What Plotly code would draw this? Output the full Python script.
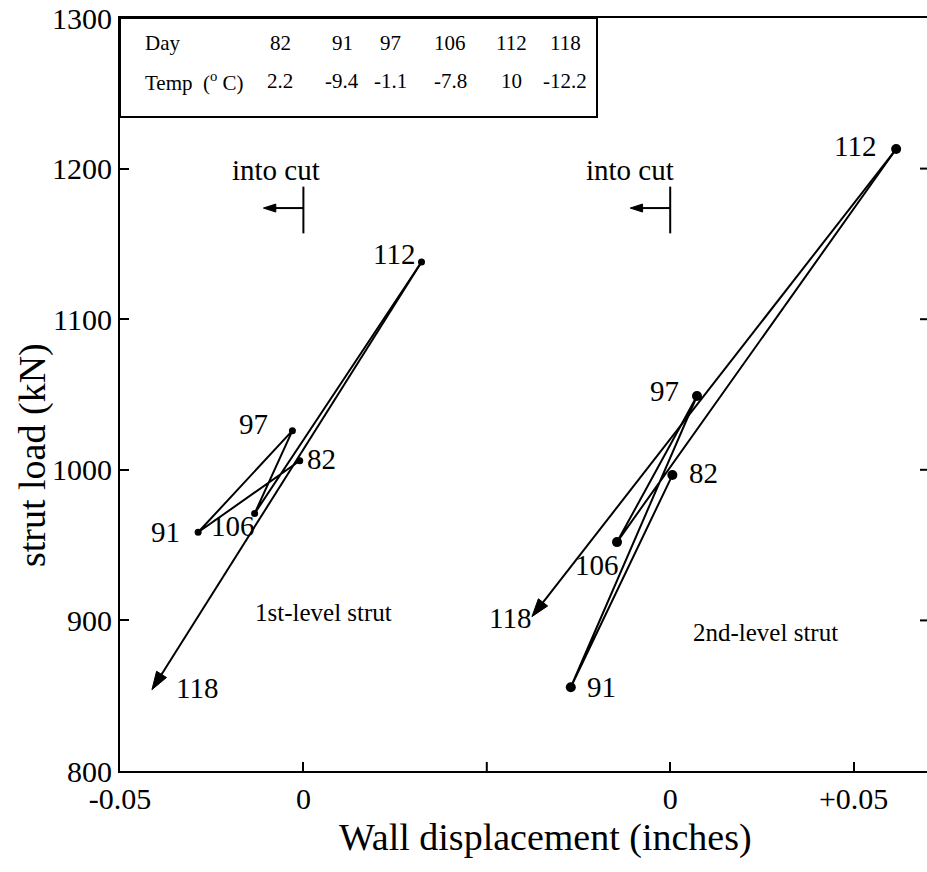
import plotly.graph_objects as go

# Observation days and air temperatures
days = [82, 91, 97, 106, 112, 118]
temps = ["2.2", "-9.4", "-1.1", "-7.8", "10", "-12.2"]

# 1st-level strut: wall displacement (in) and strut load (kN), in day order
strut1_disp = [-0.0010, -0.0287, -0.0030, -0.0133, 0.0322, -0.0413]
strut1_load = [1006, 958.5, 1026, 971, 1138, 854]

# 2nd-level strut
strut2_disp = [0.0006, -0.0271, 0.0073, -0.0145, 0.0616, -0.0377]
strut2_load = [996.5, 855.6, 1049, 952, 1213, 902.5]

# The two panels share one x axis; the 2nd-level panel is shifted right
PANEL2_OFFSET = 0.10

x_tickvals = [-0.05, 0.0, 0.10, 0.15]
x_ticktext = ["-0.05", "0", "0", "+0.05"]
x_unlabelled_tick = 0.05
y_tickvals = [800, 900, 1000, 1100, 1200, 1300]

# Label offsets (px) around each point: (dx, dy up)
lab1 = [(22, 2), (-33, 0), (-39, 7), (-22, -13), (-28, 8), (45, 2)]
lab2 = [(31, 2), (31, 0), (-32, 5), (-20, -23), (-41, 3), (-22, -1)]

SERIF = "Liberation Serif"
W, H = 927, 872
ML, MR, MT, MB = 120, 0, 18, 101
PW = W - ML - MR
PH = H - MT - MB


def px(xp):
    return (xp - ML) / PW


def py(yp):
    return (H - MB - yp) / PH


def txt(x, y, text, size, ref="paper", **kw):
    d = dict(x=x, y=y, text=text, showarrow=False,
             xanchor="center", yanchor="middle",
             font=dict(family=SERIF, size=size, color="black"))
    if ref == "paper":
        d.update(xref="paper", yref="paper")
    else:
        d.update(xref="x", yref="y")
    d.update(kw)
    return d


def arrow_trace(x, y, head):
    # straight segment whose last point carries an arrowhead
    return go.Scatter(
        x=x, y=y, mode="lines+markers",
        line=dict(color="#000000", width=2),
        marker=dict(color="#000000", opacity=1, symbol=["circle", "arrow"],
                    size=[0, head], angleref="previous",
                    line=dict(color="#000000", width=1)),
        showlegend=False, hoverinfo="skip",
    )


fig = go.Figure()

annotations = []
shapes = []

panels = [
    (strut1_disp, strut1_load, 0.0, 7, lab1, -0.0074),
    (strut2_disp, strut2_load, PANEL2_OFFSET, 10, lab2, -0.0109),
]
for disp, load, off, msize, labs, cut_dx in panels:
    xs = [d + off for d in disp]
    # path through days 82..112
    fig.add_trace(go.Scatter(
        x=xs[:-1], y=load[:-1], mode="lines+markers",
        line=dict(color="black", width=2),
        marker=dict(color="black", size=msize),
        showlegend=False, hoverinfo="skip",
    ))
    # final leg to day 118
    fig.add_trace(arrow_trace(xs[-2:], load[-2:], 19))
    for xv, yv, d, (dx, dy) in zip(xs, load, days, labs):
        annotations.append(txt(xv, yv, str(d), 29, ref="data", xshift=dx, yshift=dy))
    # "into cut" direction marker
    y_arrow = 1173.8
    fig.add_trace(arrow_trace([off, off - 0.0109], [y_arrow, y_arrow], 13))
    shapes.append(dict(type="line", xref="x", yref="y", x0=off, x1=off,
                       y0=1157, y1=1188, line=dict(color="black", width=2)))
    annotations.append(txt(off + cut_dx, 1199, "into cut", 29, ref="data"))

annotations.append(txt(0.0055, 905, "1st-level strut", 25, ref="data"))
annotations.append(txt(PANEL2_OFFSET + 0.0259, 892, "2nd-level strut", 25, ref="data"))

# Unlabelled tick between the two panels
shapes.append(dict(type="line", xref="x", yref="paper",
                   x0=x_unlabelled_tick, x1=x_unlabelled_tick, y0=0, y1=9 / PH,
                   line=dict(color="black", width=2)))

# Day / temperature table in the upper-left corner
shapes.append(dict(type="rect", xref="paper", yref="paper",
                   x0=px(120), x1=px(597), y0=py(117), y1=py(18),
                   line=dict(color="black", width=2), fillcolor="rgba(0,0,0,0)"))
col_x = [280, 342, 390, 450, 511, 565]
row_y = [43, 81]
annotations.append(txt(px(143), py(row_y[0]), "Day", 21, xanchor="left"))
annotations.append(txt(px(143), py(row_y[1]), "Temp  (<sup>o</sup> C)", 21, xanchor="left"))
for cx, d, t in zip(col_x, days, temps):
    annotations.append(txt(px(cx), py(row_y[0]), str(d), 21))
    annotations.append(txt(px(cx), py(row_y[1]), t, 21))

# Axis titles
annotations.append(txt(px(545), py(838), "Wall displacement (inches)", 38))
annotations.append(txt(px(33), py(455), "strut load (kN)", 38, textangle=-90))

# Inward ticks along the right edge
for yv in [900, 1000, 1100, 1200]:
    shapes.append(dict(type="line", xref="paper", yref="y", x0=1 - 7 / PW, x1=1,
                       y0=yv, y1=yv, line=dict(color="black", width=2)))

x_max = -0.05 + PW / 3668.0

fig.update_layout(
    width=W, height=H,
    margin=dict(l=ML, r=MR, t=MT, b=MB),
    paper_bgcolor="white", plot_bgcolor="white",
    showlegend=False,
    annotations=annotations,
    shapes=shapes,
    font=dict(family=SERIF, color="black"),
    xaxis=dict(
        range=[-0.05, x_max], tickvals=x_tickvals, ticktext=x_ticktext,
        ticks="inside", ticklen=9, tickwidth=2, tickcolor="black",
        showline=True, linewidth=2, linecolor="black", mirror=True,
        showgrid=False, zeroline=False,
        tickfont=dict(family=SERIF, size=30, color="black"),
    ),
    yaxis=dict(
        range=[800, 1300], tickvals=y_tickvals,
        ticks="inside", ticklen=9, tickwidth=2, tickcolor="black",
        showline=True, linewidth=2, linecolor="black",
        showgrid=False, zeroline=False,
        tickfont=dict(family=SERIF, size=30, color="black"),
    ),
)

fig.write_html("out.html")
